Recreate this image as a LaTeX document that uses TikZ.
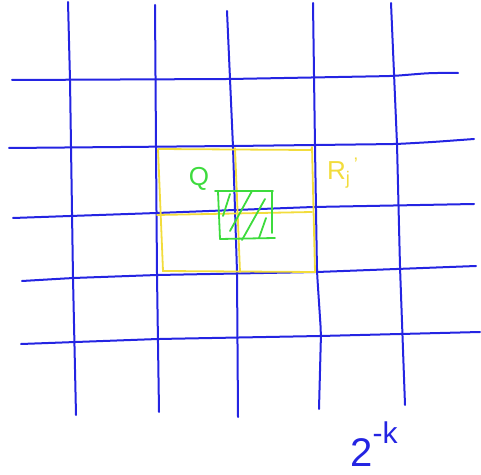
\documentclass[tikz,border=0pt]{standalone}
\usepackage{fontspec}
\setmainfont{Liberation Sans}
\usetikzlibrary{positioning}
\definecolor{pen}{HTML}{2424E2}
\definecolor{hlyel}{HTML}{F2DC3C}
\definecolor{hlgrn}{HTML}{3DDB3D}
\tikzset{
  grid/.style={draw=pen, line width=1pt, rounded corners=4pt, line cap=round},
  dyad/.style={draw=hlyel, line width=0.9pt, line cap=round},
  cube/.style={draw=hlgrn, line width=0.9pt, line cap=round},
  lbl/.style={inner sep=0pt, anchor=center},
}
\begin{document}
\begin{tikzpicture}[x=0.5pt, y=-0.5pt]
\useasboundingbox (0,0) rectangle (481,475);
  % ---- grid, vertical strokes ----
  \draw[grid] (68,2) -- (70,80) -- (73,278) -- (76,415);
  \draw[grid] (155,5) -- (156,147) -- (157,275) -- (159,412);
  \draw[grid] (227,11) -- (230,79) -- (233,147) -- (237,272) -- (238,417);
  \draw[grid] (313,3) -- (315,147) -- (317,272) -- (321,333) -- (319,409);
  \draw[grid] (391,3) -- (397,144) -- (400,267) -- (405,405);
  % ---- grid, horizontal strokes ----
  \draw[grid] (12,80) -- (230,79) -- (393,76) -- (430,73) -- (458,73);
  \draw[grid] (9,148) -- (233,146) -- (397,144) -- (433,142) -- (474,139);
  \draw[grid] (13,218) -- (70,216) -- (157,213) -- (313,207) -- (474,204);
  \draw[grid] (22,281) -- (73,278) -- (157,275) -- (317,272) -- (476,266);
  \draw[grid] (21,344) -- (158,339) -- (320,336) -- (480,332);
  % ---- yellow 2x2 block ----
  \draw[dyad] (158,149) -- (311,150) -- (312,148) (312,147) -- (315,272) -- (163,271) -- (158,149);
  \draw[dyad] (235,148) -- (240,272);
  \draw[dyad] (157,215) -- (312,212);
  % ---- green cube with hatching ----
  \draw[cube] (215,191) -- (273,191);
  \draw[cube] (272,191) -- (272,233);
  \draw[cube] (220,239) -- (275,238);
  \draw[cube] (218,192) -- (220,239);
  \draw[cube] (230,194) -- (223,216);
  \draw[cube] (252,191) -- (230,231);
  \draw[cube] (265,199) -- (242,240);
  \draw[cube] (266,218) -- (259,238);
  % ---- labels ----
  \node[lbl, text=hlgrn, font=\fontsize{13}{13}\selectfont] (qlbl) at (199,179) {Q};
  \node[lbl, text=hlyel, font=\fontsize{13}{13}\selectfont] (rlbl) at (343,173) {R\textsubscript{j}\textsuperscript{\,'}};
  \node[lbl, text=pen, font=\fontsize{20}{20}\selectfont] (klbl) at (374,444) {2\raisebox{1.1ex}{\fontsize{15}{15}\selectfont -k}};
\end{tikzpicture}
\end{document}
